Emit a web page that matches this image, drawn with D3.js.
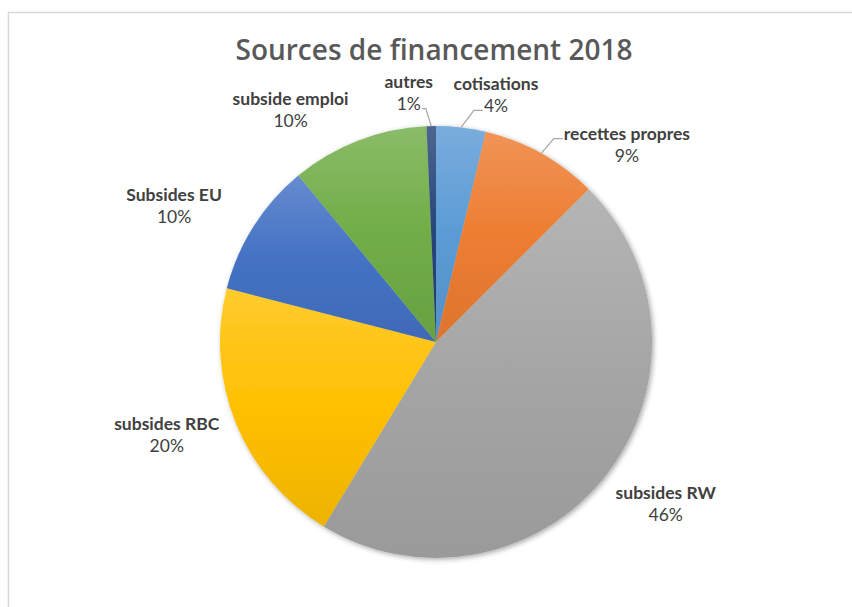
<!DOCTYPE html>
<html>
<head>
<meta charset="utf-8">
<script src="https://cdn.jsdelivr.net/npm/d3@7"></script>
<style>
  body { margin: 0; background: #fff; }
  text { font-family: Lato, "Open Sans", sans-serif; }
  text.title { font-family: "Open Sans", Lato, sans-serif; font-weight: 600; }
</style>
</head>
<body>
<div id="chart"></div>
<script>
// data (percent of total, clockwise from 12 o'clock)
const categories = ["cotisations", "recettes propres", "subsides RW", "subsides RBC", "Subsides EU", "subside emploi", "autres"];
const values = [3.7, 8.8, 46.2, 20.3, 10.0, 10.3, 0.7];
const colors = ["#5B9BD5", "#ED7D31", "#A5A5A5", "#FFC000", "#4472C4", "#70AD47", "#264478"];
const title = "Sources de financement 2018";

// label layout (Excel "best fit"): angle shift in degrees from slice middle, distance from centre,
// and which text line the leader line hooks on to
const labelLayout = {
  "cotisations":      { shift: 7,  dist: 254, leader: "pct" },
  "recettes propres": { shift: 15, dist: 274, leader: "name" },
  "subsides RW":      { shift: -3, dist: 281, leader: null },
  "subsides RBC":     { shift: 3,  dist: 285, leader: null },
  "Subsides EU":      { shift: -5, dist: 295, leader: null },
  "subside emploi":   { shift: -11, dist: 274, leader: null },
  "autres":           { shift: -5, dist: 250, leader: "pct" }
};

const width = 852, height = 607;
const cx = 436, cy = 342, radius = 216;

const svg = d3.select("#chart").append("svg")
  .attr("width", width)
  .attr("height", height);

// chart area frame (cut by the screenshot on the right and bottom)
svg.append("path")
  .attr("d", `M8.5,${height + 2}V12.5H${width + 2}`)
  .attr("fill", "none")
  .attr("stroke", "#d9d9d9")
  .attr("stroke-width", 1.5);

svg.append("text")
  .attr("class", "title")
  .attr("x", 434)
  .attr("y", 60)
  .attr("text-anchor", "middle")
  .attr("fill", "#595959")
  .attr("font-size", 28)
  .text(title);

const defs = svg.append("defs");

const shadow = defs.append("filter").attr("id", "shadow")
  .attr("x", "-10%").attr("y", "-10%").attr("width", "120%").attr("height", "120%");
shadow.append("feDropShadow")
  .attr("dx", 1.5).attr("dy", 1.5).attr("stdDeviation", 2.5)
  .attr("flood-color", "#000").attr("flood-opacity", 0.35);

colors.forEach((c, i) => {
  const g = defs.append("linearGradient")
    .attr("id", "grad" + i)
    .attr("x1", 0).attr("y1", 0).attr("x2", 0).attr("y2", 1);
  g.append("stop").attr("offset", "0%").attr("stop-color", d3.interpolateRgb(c, "#fff")(0.18));
  g.append("stop").attr("offset", "50%").attr("stop-color", c);
  g.append("stop").attr("offset", "100%").attr("stop-color", d3.color(c).darker(0.2));
});

const data = categories.map((name, i) => ({ name, value: values[i], idx: i }));

const pie = d3.pie().value(d => d.value).sort(null);
const arcs = pie(data);
const arc = d3.arc().innerRadius(0).outerRadius(radius);

const g = svg.append("g").attr("transform", `translate(${cx},${cy})`);

g.append("g")
  .attr("filter", "url(#shadow)")
  .selectAll("path")
  .data(arcs)
  .join("path")
  .attr("d", arc)
  .attr("fill", d => `url(#grad${d.data.idx})`);

// labels
const polar = (ang, r) => [Math.sin(ang) * r, -Math.cos(ang) * r];
const labelPos = d => {
  const lay = labelLayout[d.data.name];
  const mid = (d.startAngle + d.endAngle) / 2 + lay.shift * Math.PI / 180;
  return polar(mid, lay.dist);
};

const labels = g.append("g").selectAll("g")
  .data(arcs)
  .join("g")
  .attr("transform", d => `translate(${labelPos(d)})`);

labels.append("text")
  .attr("class", "name")
  .attr("text-anchor", "middle")
  .attr("y", -5)
  .attr("fill", "#404040")
  .attr("font-size", 17.5)
  .attr("font-weight", "bold")
  .text(d => d.data.name);

labels.append("text")
  .attr("class", "pct")
  .attr("text-anchor", "middle")
  .attr("y", 17)
  .attr("fill", "#404040")
  .attr("font-size", 17.5)
  .text(d => Math.round(d.data.value) + "%");

// leader lines for the small outside labels
labels.filter(d => labelLayout[d.data.name].leader)
  .each(function(d) {
    const [lx, ly] = labelPos(d);
    const box = d3.select(this).select("." + labelLayout[d.data.name].leader).node().getBBox();
    const mid = (d.startAngle + d.endAngle) / 2;
    const p0 = polar(mid, radius);
    const y = ly + box.y + box.height * 0.72;
    let pts;
    if (p0[0] > lx + box.x + box.width) {
      const x = lx + box.x + box.width + 1;
      pts = [[x, y], [x + 4, y], p0];
    } else {
      const x = lx + box.x - 1;
      pts = [[x, y], [x - 9, y], p0];
    }
    g.append("polyline")
      .attr("fill", "none")
      .attr("stroke", "#a6a6a6")
      .attr("stroke-width", 1.2)
      .attr("points", pts.map(p => p.join(",")).join(" "));
  });
</script>
</body>
</html>
